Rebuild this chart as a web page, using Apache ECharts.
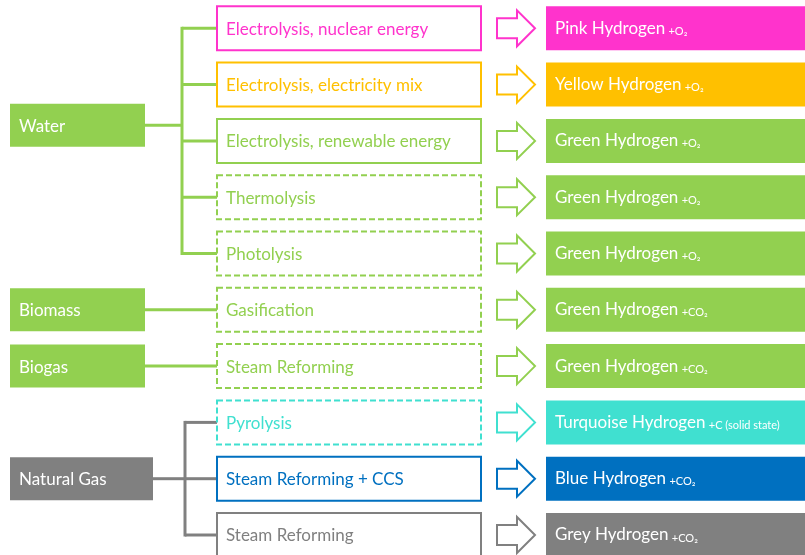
<!DOCTYPE html>
<html><head><meta charset="utf-8">
<script src="https://cdn.jsdelivr.net/npm/echarts@6/dist/echarts.min.js"></script>
<style>html,body{margin:0;padding:0;background:#fff}#c{width:805px;height:555px}</style>
</head><body><div id="c"></div>
<script>
// ---- data ----
const sources = ['Water', 'Biomass', 'Biogas', 'Natural Gas'];
const sourceRows = [[0, 1, 2, 3, 4], [5], [6], [7, 8, 9]];
const processes = [
  'Electrolysis, nuclear energy', 'Electrolysis, electricity mix', 'Electrolysis, renewable energy',
  'Thermolysis', 'Photolysis', 'Gasification', 'Steam Reforming', 'Pyrolysis',
  'Steam Reforming + CCS', 'Steam Reforming'
];
const dashedProcess = [false, false, false, true, true, true, true, true, false, false];
const products = [
  'Pink Hydrogen', 'Yellow Hydrogen', 'Green Hydrogen', 'Green Hydrogen', 'Green Hydrogen',
  'Green Hydrogen', 'Green Hydrogen', 'Turquoise Hydrogen', 'Blue Hydrogen', 'Grey Hydrogen'
];
const byproducts = ['+O₂', '+O₂', '+O₂', '+O₂', '+O₂', '+CO₂', '+CO₂', '+C (solid state)', '+CO₂', '+CO₂'];

// ---- styles / layout ----
const PINK = '#FF33CC', YELLOW = '#FFC000', GREEN = '#92D050', TURQ = '#40E0D0', BLUE = '#0070C0', GREY = '#808080';
const rowColors = [PINK, YELLOW, GREEN, GREEN, GREEN, GREEN, GREEN, TURQ, BLUE, GREY];
const sourceColors = [GREEN, GREEN, GREEN, GREY];
const sourceAnchorRow = [1.72, 5, 6, 8];
const sourceWidth = [135, 135, 135, 143];
const trunkX = [182, 182, 182, 185];
const FONT = 'Lato, "Open Sans", "DejaVu Sans", sans-serif';
const FS = 17;
const ROW0 = 28.3, PITCH = 56.3, BOX_H = 44, SRC_H = 43;
const SRC_X0 = 10, MID_X0 = 217, MID_X1 = 481, AR_X0 = 497, AR_NECK = 517, AR_X1 = 535, R_X0 = 546, R_X1 = 812;

const rowY = i => ROW0 + i * PITCH;

function rowItem(params, api) {
  const i = api.value(0);
  const cy = rowY(i);
  const c = rowColors[i];
  const P = (x, y) => api.coord([x, y]);
  const m0 = P(MID_X0, cy - BOX_H / 2), m1 = P(MID_X1, cy + BOX_H / 2);
  const r0 = P(R_X0, cy - BOX_H / 2), r1 = P(R_X1, cy + BOX_H / 2);
  const mid = P(0, cy)[1];
  const arrowPts = [[AR_X0, cy - 10], [AR_NECK, cy - 10], [AR_NECK, cy - 18], [AR_X1, cy],
                    [AR_NECK, cy + 18], [AR_NECK, cy + 10], [AR_X0, cy + 10]].map(p => P(p[0], p[1]));
  return {
    type: 'group',
    children: [
      { type: 'rect', shape: { x: m0[0], y: Math.min(m0[1], m1[1]), width: m1[0] - m0[0], height: Math.abs(m1[1] - m0[1]) },
        style: { fill: '#fff', stroke: c, lineWidth: 2, lineDash: dashedProcess[i] ? [6, 3] : null } },
      { type: 'text', style: { x: m0[0] + 9, y: mid + 1, text: processes[i], fill: c,
        font: FS + 'px ' + FONT, verticalAlign: 'middle', align: 'left' } },
      { type: 'polygon', shape: { points: arrowPts }, style: { fill: '#fff', stroke: c, lineWidth: 2 } },
      { type: 'rect', shape: { x: r0[0], y: Math.min(r0[1], r1[1]), width: r1[0] - r0[0], height: Math.abs(r1[1] - r0[1]) },
        style: { fill: c } },
      { type: 'text', style: { x: r0[0] + 9, y: mid, text: '{a|' + products[i] + '} {b|' + byproducts[i] + '}',
        verticalAlign: 'middle', align: 'left',
        rich: { a: { fontSize: FS, fontFamily: FONT, fill: '#fff', color: '#fff', verticalAlign: 'bottom' },
                b: { fontSize: 11, fontFamily: FONT, fill: '#fff', color: '#fff', verticalAlign: 'bottom' } } } }
    ]
  };
}

function sourceItem(params, api) {
  const s = api.value(0);
  const cy = rowY(sourceAnchorRow[s]);
  const c = sourceColors[s];
  const P = (x, y) => api.coord([x, y]);
  const b0 = P(SRC_X0, cy - SRC_H / 2), b1 = P(SRC_X0 + sourceWidth[s], cy + SRC_H / 2);
  const rows = sourceRows[s];
  const lw = 3;
  const children = [];
  if (rows.length === 1) {
    children.push({ type: 'line', shape: { x1: b1[0], y1: P(0, cy)[1], x2: P(MID_X0, 0)[0], y2: P(0, cy)[1] },
      style: { stroke: c, lineWidth: lw } });
  } else {
    const tx = P(trunkX[s], 0)[0];
    children.push({ type: 'line', shape: { x1: b1[0], y1: P(0, cy)[1], x2: tx, y2: P(0, cy)[1] }, style: { stroke: c, lineWidth: lw } });
    children.push({ type: 'line', shape: { x1: tx, y1: P(0, rowY(rows[0]))[1] - lw / 2, x2: tx, y2: P(0, rowY(rows[rows.length - 1]))[1] + lw / 2 },
      style: { stroke: c, lineWidth: lw } });
    rows.forEach(r => {
      const y = P(0, rowY(r))[1];
      children.push({ type: 'line', shape: { x1: tx, y1: y, x2: P(MID_X0, 0)[0], y2: y }, style: { stroke: c, lineWidth: lw } });
    });
  }
  children.push({ type: 'rect', shape: { x: b0[0], y: Math.min(b0[1], b1[1]), width: b1[0] - b0[0], height: Math.abs(b1[1] - b0[1]) },
    style: { fill: c } });
  children.push({ type: 'text', style: { x: b0[0] + 9, y: P(0, cy)[1] + 1, text: sources[s], fill: '#fff',
    font: FS + 'px ' + FONT, verticalAlign: 'middle', align: 'left' } });
  return { type: 'group', children };
}

const chart = echarts.init(document.getElementById('c'), null, { renderer: 'canvas' });
chart.setOption({
  animation: false,
  backgroundColor: '#fff',
  grid: { left: 0, right: 0, top: 0, bottom: 0 },
  xAxis: { type: 'value', min: 0, max: 805, show: false },
  yAxis: { type: 'value', min: 0, max: 555, inverse: true, show: false },
  series: [
    { type: 'custom', renderItem: sourceItem, clip: false, data: sources.map((s, i) => [i]) },
    { type: 'custom', renderItem: rowItem, clip: false, data: processes.map((p, i) => [i]) }
  ]
});
</script></body></html>
